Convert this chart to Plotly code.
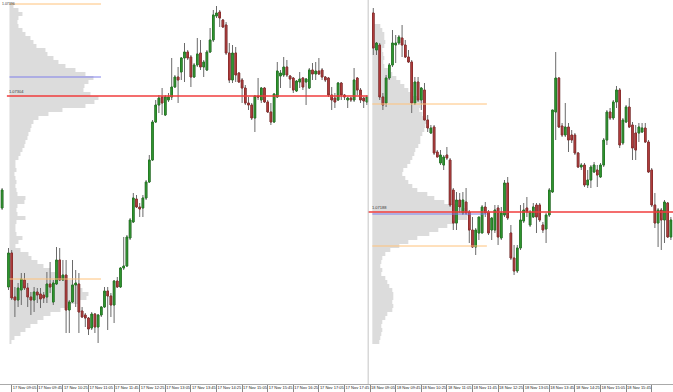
import plotly.graph_objects as go

# ---------------- data ----------------
# prices are stored in points (1 point = 0.00001) above 1.07000
BASE = 1.07
PT = 0.00001

# session 1 (17 Nov) incl. last bar of previous session at index -2
s1_bar = [-2] + list(range(0, 113))
s1_open = [192,
    113,147,103,100,110,120,112,103,100,108,106,105,103,116,98,116,140,120,125,90,
    98,115,116,89,85,82,72,86,73,85,93,109,104,95,119,113,132,134,162,178,
    201,193,192,202,218,240,278,295,303,285,300,303,313,323,328,342,348,343,323,335,
    347,333,330,348,360,384,388,380,375,347,320,347,327,320,312,297,295,282,304,300,
    312,298,288,278,303,324,325,333,324,322,309,318,322,318,312,330,326,329,330,323,
    322,305,302,300,317,305,300,302,300,322,310,302,298]
s1_high = [212,
    152,150,113,117,127,127,117,108,113,112,112,108,128,138,120,153,152,140,140,100,
    140,130,127,93,87,83,88,87,86,94,113,113,107,120,123,133,163,165,182,207,
    205,197,205,220,245,280,300,305,312,305,307,342,325,333,343,357,350,345,337,362,
    360,340,350,372,390,394,390,381,378,357,355,353,328,322,315,303,297,305,322,313,
    313,300,297,307,338,330,343,340,325,323,320,328,323,322,332,337,338,342,332,324,
    323,313,307,318,318,306,303,303,332,323,312,303,305]
s1_low = [190,
    110,100,83,93,95,110,93,85,88,97,92,97,97,107,95,115,119,119,67,67,
    97,93,67,82,73,65,70,67,57,83,92,70,83,77,112,112,130,133,160,177,
    192,183,183,200,217,239,277,287,285,284,298,300,312,297,320,318,340,313,322,333,
    330,323,329,347,358,382,373,372,345,317,317,318,317,297,295,290,280,268,300,297,
    297,287,275,277,302,312,323,323,312,307,308,312,310,295,311,320,320,325,320,318,
    303,290,292,299,300,300,292,298,298,305,297,292,295]
s1_close = [210,
    147,102,100,112,121,112,103,100,108,105,101,102,116,113,117,140,120,125,90,98,
    115,117,88,83,82,71,86,73,85,93,109,104,95,119,113,132,134,163,180,202,
    193,191,202,218,240,278,295,302,297,303,303,313,323,320,342,348,342,323,335,346,
    333,338,348,360,385,387,382,373,347,320,347,325,318,312,297,295,282,304,303,312,
    298,288,278,306,329,327,333,325,321,310,319,321,313,321,330,326,329,326,323,320,
    305,300,298,317,305,303,302,300,320,310,300,299,303]

# session 2 (18 Nov)
s2_bar = list(range(114, 208))
s2_open = [387,350,355,303,297,322,335,355,357,362,355,343,338,297,318,300,310,280,267,273,
    248,237,235,245,240,210,177,200,187,198,188,170,153,167,167,193,188,170,170,192,
    162,185,217,167,142,129,152,179,192,175,183,195,195,175,171,185,208,288,322,274,
    265,273,265,265,247,233,235,215,220,228,230,223,235,260,288,282,298,310,257,278,
    293,275,267,267,268,272,258,230,195,177,190,180,197,163]
s2_high = [392,358,357,307,325,337,370,365,365,375,360,350,340,323,323,313,317,285,275,275,
    250,250,245,253,242,212,208,207,208,212,190,183,172,183,195,198,190,183,195,195,
    193,220,223,175,155,155,195,197,203,190,197,197,197,178,187,212,290,348,323,277,
    297,277,270,267,248,237,237,230,235,238,235,237,262,290,292,300,314,312,282,295,
    302,278,275,277,277,277,260,232,207,192,192,200,198,183]
s2_low = [345,345,300,290,293,320,333,337,355,343,342,337,287,295,298,290,280,268,266,245,
    243,235,230,240,193,170,170,187,185,185,157,152,145,160,167,183,165,160,167,155,
    160,183,180,140,125,127,150,177,183,173,182,167,178,167,157,183,207,260,272,263,
    263,248,257,245,232,230,213,212,212,227,213,222,233,255,280,280,292,252,255,277,
    272,240,240,258,267,257,227,193,172,153,150,157,162,160]
s2_close = [352,357,303,295,322,335,357,357,363,355,343,338,297,318,300,312,280,272,272,247,
    243,245,243,242,195,177,200,193,200,187,170,153,170,183,193,187,167,182,190,163,
    187,217,182,142,129,152,180,190,188,188,193,183,180,170,185,210,290,322,273,265,
    273,260,260,247,233,235,215,220,233,235,225,235,260,288,282,298,310,255,280,293,
    273,252,250,273,272,258,228,195,177,190,180,198,163,180]

# market profiles: bin centres (points) and volume per bin, top to bottom
s1_prof_levels = list(range(394, 57, -4))
s1_prof_vol = [4,9,13,9,8,9,13,16,21,24,27,36,38,44,49,56,66,76,84,79,
    75,74,81,89,85,76,53,39,29,24,22,21,19,18,16,15,13,11,9,6,
    6,7,5,6,7,6,7,8,16,15,8,7,8,16,7,6,6,7,13,9,
    6,11,19,22,28,34,41,49,56,63,69,73,79,77,69,61,51,41,34,28,
    21,16,11,5,2]
s2_prof_levels = list(range(374, 57, -4))
s2_prof_vol = [8,10,12,12,13,12,10,11,12,11,12,16,20,24,28,32,36,40,46,52,
    48,47,50,54,55,53,52,50,48,48,46,43,42,40,38,35,31,30,33,36,
    40,45,55,62,72,85,95,98,95,85,75,66,57,45,36,27,18,13,10,9,
    8,10,9,13,15,17,20,21,21,20,21,20,15,13,10,9,10,9,8,7]

# key levels (points): value-area high/low, vwap, point of control
s1_vah, s1_vwap, s1_poc, s1_val = 396, 323, 304, 121
s2_vah, s2_vwap, s2_poc, s2_val = 296, 186, 188, 154

# session geometry in bar units
s1_prof_base, s2_prof_base = 0.3, 113.7
s1_va_end, s2_va_end = 28.9, 149.5
s1_poc_start = -0.5
session_sep = 112.4
x_start, x_end = -2.656, 207.66

tick_bars = list(range(1, 202, 8))
tick_text = ["17 Nov 09:05", "17 Nov 09:45", "17 Nov 10:25", "17 Nov 11:05", "17 Nov 11:45",
             "17 Nov 12:25", "17 Nov 13:05", "17 Nov 13:45", "17 Nov 14:25", "17 Nov 15:05",
             "17 Nov 15:45", "17 Nov 16:25", "17 Nov 17:05", "17 Nov 17:45",
             "18 Nov 09:05", "18 Nov 09:45", "18 Nov 10:25", "18 Nov 11:05", "18 Nov 11:45",
             "18 Nov 12:25", "18 Nov 13:05", "18 Nov 13:45", "18 Nov 14:25", "18 Nov 15:05",
             "18 Nov 15:45", "18 Nov 16:25"]

BAR_PX = 3.2  # profile volume units per bar width


def pr(v):
    return [round(BASE + p * PT, 5) for p in v]


def p1(v):
    return round(BASE + v * PT, 5)


fig = go.Figure()

for levels, vols, base in [(s1_prof_levels, s1_prof_vol, s1_prof_base),
                           (s2_prof_levels, s2_prof_vol, s2_prof_base)]:
    fig.add_trace(go.Bar(
        y=pr(levels), x=[v / BAR_PX for v in vols], base=base, orientation="h",
        width=4 * PT, marker=dict(color="#dcdcdc", line=dict(width=0)),
        hoverinfo="skip", showlegend=False))

for bars, o, h, l, c in [(s1_bar, s1_open, s1_high, s1_low, s1_close),
                         (s2_bar, s2_open, s2_high, s2_low, s2_close)]:
    # wicks (grey)
    fig.add_trace(go.Candlestick(
        x=bars, open=pr(o), high=pr(h), low=pr(l), close=pr(c),
        increasing=dict(fillcolor="rgba(0,0,0,0)", line=dict(color="#6a6a6a", width=1)),
        decreasing=dict(fillcolor="rgba(0,0,0,0)", line=dict(color="#6a6a6a", width=1)),
        whiskerwidth=0, showlegend=False, hoverinfo="skip"))
    # coloured bodies
    top = [max(a, b) for a, b in zip(o, c)]
    bot = [min(a, b) for a, b in zip(o, c)]
    fig.add_trace(go.Candlestick(
        x=bars, open=pr(o), high=pr(top), low=pr(bot), close=pr(c),
        increasing=dict(fillcolor="#36a636", line=dict(color="#247a24", width=1)),
        decreasing=dict(fillcolor="#c44545", line=dict(color="#8e2e2e", width=1)),
        whiskerwidth=0, showlegend=False, hoverinfo="skip"))


def hline(x0, x1, lvl, color, w=1):
    fig.add_trace(go.Scatter(x=[x0, x1], y=[p1(lvl), p1(lvl)], mode="lines",
                             line=dict(color=color, width=w), hoverinfo="skip",
                             showlegend=False))


ORANGE = "#ffc27a"
BLUE = "#7f7fea"
RED = "#f03c3c"
hline(s1_prof_base, s1_va_end, s1_vah, ORANGE)
hline(s1_prof_base, s1_va_end, s1_val, ORANGE)
hline(s1_prof_base, s1_va_end, s1_vwap, BLUE)
hline(s1_poc_start, session_sep, s1_poc, RED, 1.5)
hline(s2_prof_base, s2_va_end, s2_vah, ORANGE)
hline(s2_prof_base, s2_va_end, s2_val, ORANGE)
hline(s2_prof_base, s2_va_end, s2_vwap, BLUE)
hline(session_sep, x_end, s2_poc, RED, 1.5)

fig.add_shape(type="line", xref="x", yref="paper", x0=session_sep, x1=session_sep,
              y0=0, y1=1, line=dict(color="#c4c4c4", width=1))

lab_font = dict(family="Liberation Sans", size=4, color="#333333")
fig.add_annotation(x=x_start, y=p1(s1_vah), text=f"{p1(s1_vah):.5f}", showarrow=False,
                   xanchor="left", yanchor="middle", font=dict(lab_font, size=3.5))
for xx, lvl in [(s1_poc_start, s1_poc), (session_sep + 0.5, s2_poc)]:
    fig.add_annotation(x=xx, y=p1(lvl), text=f"{p1(lvl):.5f}", showarrow=False,
                       xanchor="left", yanchor="bottom", font=lab_font)

fig.update_layout(
    width=673, height=392, margin=dict(l=0, r=0, t=0, b=8),
    paper_bgcolor="white", plot_bgcolor="white", barmode="overlay",
    showlegend=False,
    xaxis=dict(range=[x_start, x_end], showgrid=False, zeroline=False,
               rangeslider=dict(visible=False), tickmode="array",
               tickvals=tick_bars, ticktext=tick_text, ticks="outside",
               ticklen=7, tickcolor="#888888", tickwidth=1, tickangle=0,
               ticklabelposition="outside right", ticklabelstandoff=-1,
               showline=True, linecolor="#aaaaaa", linewidth=1, automargin=False,
               tickfont=dict(family="Liberation Sans", size=4, color="#222222")),
    yaxis=dict(range=[BASE + 16 * PT, BASE + 400 * PT], visible=False,
               showgrid=False, zeroline=False, fixedrange=True),
)

fig.write_html("out.html")
